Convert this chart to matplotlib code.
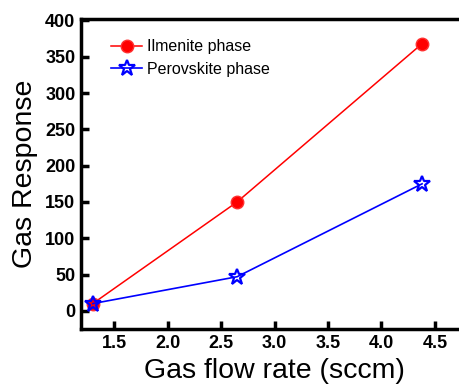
import matplotlib
matplotlib.use('Agg')
import matplotlib.pyplot as plt

flow_rate = [1.3, 2.65, 4.38]
ilmenite = [10, 150, 368]
perovskite = [10, 47, 175]

plt.rcParams['font.family'] = 'Liberation Sans'

fig = plt.figure(figsize=(4.59, 3.86), dpi=100)
ax = fig.add_axes([81 / 459, 57 / 386, 386 / 459, 310 / 386])

ax.plot(flow_rate, ilmenite, color='red', lw=1.1, marker='o', ms=9,
        mfc='red', mec='#ff3030', label='Ilmenite phase')
ax.plot(flow_rate, perovskite, color='blue', lw=1.2, marker='*', ms=12,
        mfc='none', mec='blue', mew=1.6, label='Perovskite phase')

ax.set_xlim(1.19, 4.8)
ax.set_ylim(-25, 402)
ax.set_xticks([1.5, 2.0, 2.5, 3.0, 3.5, 4.0, 4.5])
ax.set_yticks(range(0, 401, 50))
ax.tick_params(direction='in', width=2.5, length=6, labelsize=13, pad=4)
for lab in ax.get_xticklabels() + ax.get_yticklabels():
    lab.set_fontweight('bold')
for sp in ax.spines.values():
    sp.set_linewidth(2.5)

ax.set_xlabel('Gas flow rate (sccm)', fontsize=20.5, labelpad=5)
ax.set_ylabel('Gas Response', fontsize=20.5, labelpad=5)
ax.legend(loc='upper left', bbox_to_anchor=(0.06, 0.955), frameon=False,
          fontsize=11.5, handlelength=2.0, handletextpad=0.3, labelspacing=0.45,
          borderaxespad=0)

fig.savefig('out.png', dpi=100)
